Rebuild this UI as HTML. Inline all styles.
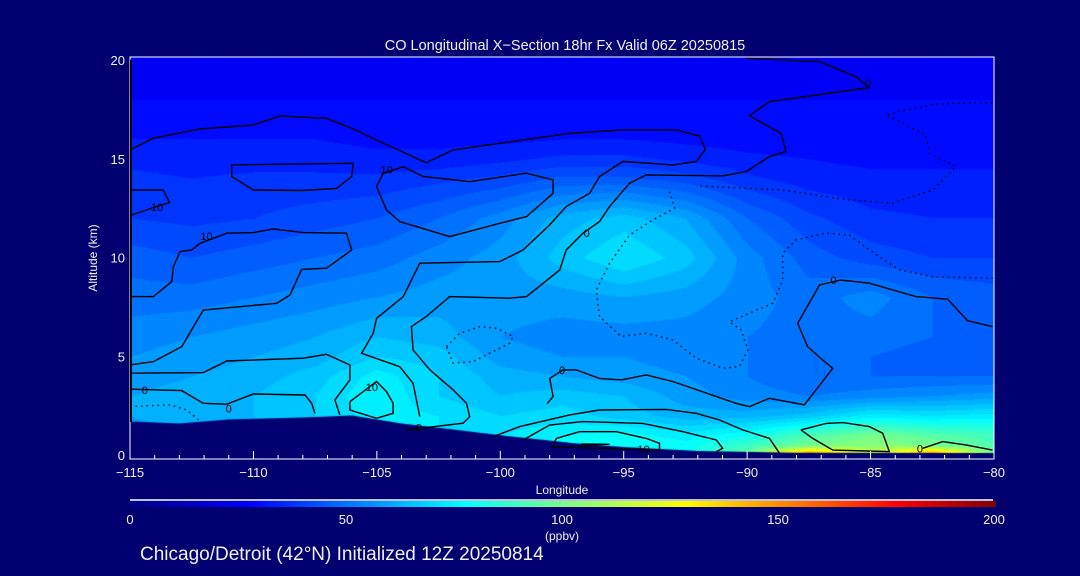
<!DOCTYPE html>
<html><head><meta charset="utf-8">
<style>
html,body{margin:0;padding:0;background:#000070;width:1080px;height:576px;overflow:hidden;}
#wrap{position:relative;width:1080px;height:576px;}
canvas,svg{position:absolute;left:0;top:0;}
text{font-family:"Liberation Sans",sans-serif;fill:#f0f0f0;}
</style></head>
<body>
<div id="wrap">
<canvas id="cv" width="1080" height="576"></canvas>
<svg id="sv" width="1080" height="576"></svg>
</div>
<script>
const lons=[-115,-112.5,-110,-107.5,-105,-102.5,-100,-97.5,-95,-92.5,-90,-87.5,-85,-82.5,-80];
const alts=[0,0.5,1,2,3,4,5,6,8,10,12,14,15,16,18,20];
const coValues=[
[58,58,62,66,72,72,74,78,80,78,100,160,120,160,100],
[58,60,62,66,72,72,74,78,80,78,88,100,104,100,92],
[58,60,62,66,72,72,72,76,78,74,80,92,100,94,90],
[60,62,64,68,74,72,68,70,66,62,62,66,74,72,74],
[60,62,64,68,76,68,64,66,64,58,54,52,54,56,58],
[58,60,62,66,74,68,62,60,58,56,52,48,48,48,48],
[56,58,60,62,68,66,58,56,56,54,52,48,48,46,46],
[54,56,58,60,64,62,56,54,54,54,52,50,50,48,48],
[50,50,52,54,56,58,58,58,60,58,54,50,54,48,46],
[46,44,46,48,50,54,58,66,72,66,54,46,42,40,40],
[40,39,40,42,44,48,54,62,66,60,48,41,37,36,36],
[37,36,37,37,37,39,41,45,45,42,37,34,33,33,33],
[35,34,34,34,33,33,35,37,37,35,33,32,31,31,31],
[32,32,32,32,31,31,31,32,32,31,30,30,30,30,30],
[28,28,28,28,28,28,28,28,28,28,28,28,28,28,28],
[24,24,24,24,24,24,24,24,24,24,24,24,24,24,24]];
const terrainLon=[-115,-113,-111,-108,-106,-104,-102,-100,-97,-95,-92,-88,-80];
const terrainAlt=[1.7,1.6,1.8,1.9,2.0,1.6,1.3,1.0,0.6,0.4,0.2,0.12,0.1];
const xTicks=[-115,-110,-105,-100,-95,-90,-85,-80];
const yTicks=[0,5,10,15,20];
const cbTicks=[0,50,100,150,200];
const solidLines=[
[[-115,15.45],[-114.05,16.04],[-112.16,16.51],[-110,16.71],[-108.92,17.17],[-107.04,17.05],[-105.96,16.51],[-105.01,15.95],[-103,14.8],[-101.9,15.45],[-97.19,16.29],[-95.03,16.46],[-92.87,16.46],[-91.93,16.15],[-91.69,15.48],[-92.06,14.86],[-93,14.69],[-95.03,14.86],[-95.98,14.1],[-96.38,13.25],[-97.33,12.58],[-98,11.65],[-99.08,10.38],[-100.02,9.79],[-103.26,9.71],[-103.93,8.02],[-105.01,6.92],[-105.15,6.16],[-105.62,5.15],[-104.07,4.47],[-103.53,3.63],[-103.26,1.94]],
[[-115,13.42],[-113.65,13.42],[-113.4,12.78],[-113.92,12.58],[-115,12.12]],
[[-110.88,14.69],[-105.96,14.77],[-106.02,14.1],[-106.63,13.5],[-108.05,13.39],[-110,13.42],[-110.88,14.1],[-110.88,14.69]],
[[-105.01,13.59],[-104.61,12.41],[-104.07,11.82],[-102.05,11.06],[-100.02,11.73],[-98.94,12.07],[-97.86,13.25],[-97.86,13.93],[-98.94,14.27],[-101.24,13.84],[-103.12,14.1],[-103.93,14.6],[-104.74,14.27],[-105.01,13.59]],
[[-115,8.02],[-114.05,8.02],[-113.31,8.78],[-113.24,9.54],[-112.97,10.3],[-112.5,10.38],[-112.16,10.72],[-111.08,11.23],[-110,11.26],[-109.19,11.45],[-107.98,11.26],[-106.23,11.23],[-106.02,10.38],[-107.04,9.46],[-108.05,9.4],[-108.52,8.1],[-109.06,7.68],[-112.03,7.34],[-112.9,5.49],[-114.05,4.73],[-115,4.56]],
[[-115,4.14],[-112.03,4.17],[-111.08,4.76],[-107.98,4.9],[-107.04,5.1],[-106.09,4.56],[-106.09,3.8],[-106.7,2.79],[-106.5,2.03]],
[[-115,3.33],[-112.9,3.26],[-112.03,2.62],[-111.08,2.57],[-110,3.09],[-107.91,3.04],[-107.64,2.62],[-107.51,2.11]],
[[-106.09,2.7],[-105.01,3.72],[-104.61,3.21],[-104.34,2.62],[-104.34,2.11],[-105.01,1.86],[-106.09,2.28],[-106.09,2.7]],
[[-103.8,1.27],[-101.51,1.61],[-101.24,1.94],[-101.37,2.62],[-101.91,3.3],[-102.85,4.31],[-103.53,5.32],[-103.6,6.5],[-103,7.01],[-102.05,8.02],[-99.62,7.94],[-98.94,8.02],[-97.59,9.37],[-97.46,9.88],[-97.33,10.38],[-96.65,11.23],[-95.98,11.82],[-95.57,12.58],[-94.76,13.76],[-94.09,14.18],[-90.99,14.13],[-90.04,14.35],[-89.1,15.11],[-88.42,15.36],[-88.62,16.29],[-89.91,17.18],[-89.1,17.89],[-85.05,18.6],[-85.59,19.16],[-87.07,19.92],[-88.56,20.0],[-90.04,20.09]],
[[-80.06,6.5],[-81.07,6.8],[-81.88,7.89],[-83.16,8.02],[-85.05,8.7],[-86.2,8.86],[-87.07,8.61],[-87.95,6.67],[-87.55,5.49],[-86.94,4.81],[-86.53,4.39],[-87.68,2.54],[-89.1,2.87],[-89.91,2.45],[-90.45,2.62],[-93.01,3.72],[-94.09,4.05],[-95.1,3.8],[-95.98,3.88],[-96.92,4.31],[-97.46,4.31],[-98,3.88],[-97.86,2.96],[-98.1,2.6]],
[[-100.29,0.93],[-99.21,1.44],[-97.19,2.03],[-95.98,2.28],[-93.28,2.31],[-92.06,2.11],[-91.12,1.77],[-90.18,1.27],[-89.1,0.84],[-88.69,0.09]],
[[-99.08,0.76],[-98,1.52],[-96.65,1.69],[-94.22,1.6],[-92.6,1.18],[-91.25,0.76],[-90.99,0.34],[-91.25,0.17]],
[[-97.73,0.84],[-96.79,1.18],[-95.3,1.18],[-94.09,0.84],[-93.55,0.59],[-93.55,0.25],[-97.9,0.42],[-97.73,0.84]],
[[-96.72,0.56],[-95.57,0.54],[-96.72,0.5]],
[[-87.82,1.27],[-86.8,1.6],[-86.13,1.64],[-85.05,1.44],[-84.51,1.1],[-84.31,0.42],[-84.24,0.17],[-86.53,0.25],[-87.34,0.84],[-87.82,1.27]],
[[-82.89,0.34],[-82.08,0.68],[-81.14,0.51],[-80.06,0.25]]];
const dottedLines=[
[[-80.06,17.84],[-81.14,17.84],[-82.35,17.76],[-83.16,17.56],[-83.84,17.39],[-84.38,17.22],[-83.97,16.97],[-82.76,16.2],[-82.62,15.28],[-81.54,14.6],[-82.49,13.42],[-84.11,12.75],[-86.13,12.95],[-88.56,13.42],[-91.93,13.62]],
[[-93.14,13.34],[-92.94,12.49],[-93.82,11.9],[-94.76,11.14],[-95.57,9.71],[-96.11,8.36],[-95.98,7.01],[-95.1,6.0],[-94.09,6.16],[-93.01,5.83],[-92.06,4.9],[-90.99,4.39],[-90.31,4.48],[-89.97,5.32],[-90.24,6.33],[-90.72,6.75],[-89.91,7.18],[-88.96,7.68],[-88.56,8.86],[-88.56,10.21],[-88.02,10.89],[-86.8,11.23],[-85.86,11.14],[-85.05,10.38],[-83.84,9.37],[-82.49,9.03],[-80.06,8.95]],
[[-102.18,5.49],[-101.64,6.16],[-100.83,6.5],[-100.16,6.42],[-99.48,6.0],[-99.62,5.66],[-101.1,4.73],[-101.91,4.65],[-102.18,5.49]],
[[-115,2.45],[-113.38,2.54],[-112.7,2.28],[-112.23,1.77]]];
const lineLabels=[["10",-113.9,12.55],["10",-111.9,11.1],["10",-104.6,14.45],["0",-114.4,3.3],["0",-111,2.35],["10",-105.2,3.45],["0",-103.3,1.4],["0",-96.5,11.25],["0",-85.1,18.85],["0",-86.5,8.85],["0",-97.5,4.3],["10",-94.2,0.3],["0",-83.0,0.32]];

const X0=130,X1=994,Y0=455,PX=(X1-X0)/35,PY=19.75;
function xs(l){return X0+(l+115)*PX;}
function ys(a){return Y0-a*PY;}
const stops=[[0,0,0,128],[28,0,0,255],[77,0,255,255],[102,128,255,128],[128,255,255,0],[177,255,0,0],[200,128,0,0]];
function cmap(v){v=Math.max(0,Math.min(200,v));for(let i=1;i<stops.length;i++){if(v<=stops[i][0]){const a=stops[i-1],b=stops[i],t=(v-a[0])/(b[0]-a[0]);return [a[1]+t*(b[1]-a[1]),a[2]+t*(b[2]-a[2]),a[3]+t*(b[3]-a[3])];}}return [128,0,0];}
function idx(arr,v){for(let i=0;i<arr.length-1;i++){if(v<=arr[i+1])return [i,(v-arr[i])/(arr[i+1]-arr[i])];}return [arr.length-2,1];}
const cv=document.getElementById('cv'),ctx=cv.getContext('2d');
ctx.fillStyle='#000070';ctx.fillRect(0,0,1080,576);
const W=X1-X0,H=459-57;const img=ctx.createImageData(W,H);
for(let py=0;py<H;py++){let a=(Y0-(57+py))/PY;a=Math.max(0,Math.min(20,a));const [j,tv]=idx(alts,a);
 for(let px=0;px<W;px++){let l=-115+px/PX;l=Math.max(-115,Math.min(-80,l));const [i,tu]=idx(lons,l);
  const v=(1-tv)*((1-tu)*coValues[j][i]+tu*coValues[j][i+1])+tv*((1-tu)*coValues[j+1][i]+tu*coValues[j+1][i+1]);
  const q=Math.floor(v/4)*4+2;const c=cmap(q);const k=(py*W+px)*4;img.data[k]=c[0];img.data[k+1]=c[1];img.data[k+2]=c[2];img.data[k+3]=255;}}
ctx.putImageData(img,X0,57);
ctx.fillStyle='#000070';ctx.beginPath();ctx.moveTo(xs(terrainLon[0]),460);
for(let i=0;i<terrainLon.length;i++)ctx.lineTo(xs(terrainLon[i]),ys(terrainAlt[i]));
ctx.lineTo(xs(-80),460);ctx.closePath();ctx.fill();

const NS='http://www.w3.org/2000/svg',sv=document.getElementById('sv');
function mk(t,at,txt){const e=document.createElementNS(NS,t);for(const k in at)e.setAttribute(k,at[k]);if(txt!==undefined)e.textContent=txt;sv.appendChild(e);return e;}
solidLines.forEach(L=>{const e=mk('polyline',{points:L.map(p=>xs(p[0]).toFixed(1)+','+ys(p[1]).toFixed(1)).join(' '),fill:'none',stroke:'#000','stroke-width':1.4});

});
dottedLines.forEach(L=>{const e=mk('polyline',{points:L.map(p=>xs(p[0]).toFixed(1)+','+ys(p[1]).toFixed(1)).join(' '),fill:'none',stroke:'#000','stroke-width':1.4,'stroke-dasharray':'1.5 4'});

});
lineLabels.forEach(b=>{const e=mk('text',{x:xs(b[1]),y:ys(b[2])+4,'font-size':11,'text-anchor':'middle',style:'fill:#000'},b[0]);

});
let f=mk('rect',{x:130,y:57,width:864,height:402,fill:'none',stroke:'#fff','stroke-width':1});


let bl=mk('line',{x1:131,y1:60,x2:131,y2:422,stroke:'#000','stroke-width':2});


for(let l=-115;l<=-80;l++){const mj=(l%5===0);const t=mk('line',{x1:xs(l),x2:xs(l),y1:459,y2:459-(mj?8:4),stroke:'#fff','stroke-width':1});

}
xTicks.forEach(v=>{const t=mk('text',{x:xs(v),y:477,'font-size':13,'text-anchor':'middle'},v<0?'\u2212'+(-v):String(v));

});
yTicks.forEach(v=>{const t=mk('text',{x:125,y:ys(v)+5,'font-size':13,'text-anchor':'end'},String(v));

});
let tt=mk('text',{x:565,y:50,'font-size':14.5,'text-anchor':'middle','xml:space':'preserve'},'CO Longitudinal X\u2212Section 18hr  Fx Valid 06Z 20250815');


let yt=mk('text',{x:0,y:0,'font-size':12,'text-anchor':'middle',transform:'translate(97,258) rotate(-90)'},'Altitude (km)');


let xt=mk('text',{x:562,y:494,'font-size':12,'text-anchor':'middle'},'Longitude');


const defs=mk('defs',{});const g=document.createElementNS(NS,'linearGradient');g.setAttribute('id','jet');defs.appendChild(g);
stops.forEach(s=>{const st=document.createElementNS(NS,'stop');st.setAttribute('offset',(s[0]/200*100)+'%');st.setAttribute('stop-color','rgb('+s[1]+','+s[2]+','+s[3]+')');g.appendChild(st);});
let cbl=mk('line',{x1:130,y1:500,x2:993,y2:500,stroke:'#fff','stroke-width':1.5});


let cb=mk('rect',{x:130,y:501,width:866,height:6,fill:'url(#jet)'});


cbTicks.forEach(v=>{const t=mk('text',{x:130+v/200*864,y:524,'font-size':13,'text-anchor':'middle'},String(v));

});
let un=mk('text',{x:562,y:540,'font-size':12,'text-anchor':'middle'},'(ppbv)');


let ft=mk('text',{x:140,y:560,'font-size':19},'Chicago/Detroit (42\u00b0N) Initialized 12Z 20250814');


</script>
</body></html>
